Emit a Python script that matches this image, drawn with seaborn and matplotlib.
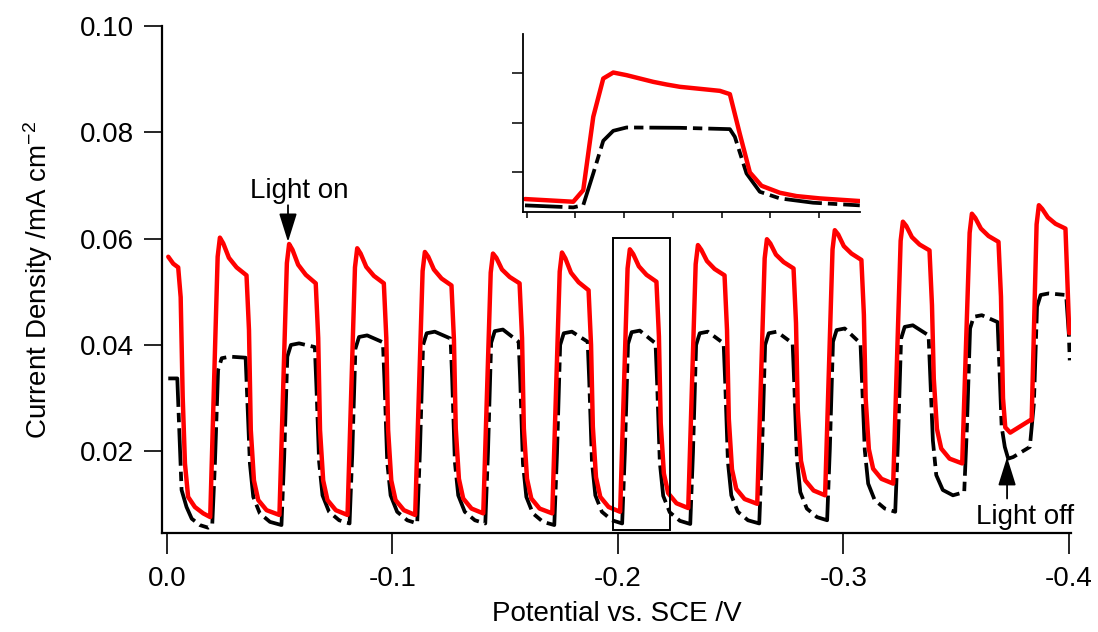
import matplotlib
matplotlib.use("Agg")
import matplotlib.pyplot as plt
from matplotlib.patches import Rectangle
import seaborn as sns
import pandas as pd

# ---------------- data ----------------
red_potential = [
    -0.0006, -0.0028, -0.0050, -0.0061, -0.0070, -0.0080, -0.0094, -0.0124, -0.0161,
    -0.0192, -0.0225, -0.0235, -0.0250, -0.0275, -0.0309, -0.0353, -0.0364, -0.0372, -0.0386, -0.0405, -0.0442,
    -0.0499, -0.0532, -0.0542, -0.0557, -0.0582, -0.0616, -0.0660, -0.0671, -0.0679, -0.0693, -0.0712, -0.0749,
    -0.0801, -0.0834, -0.0844, -0.0859, -0.0884, -0.0918, -0.0962, -0.0973, -0.0981, -0.0995, -0.1014, -0.1051,
    -0.1101, -0.1134, -0.1144, -0.1159, -0.1184, -0.1218, -0.1262, -0.1273, -0.1281, -0.1295, -0.1314, -0.1351,
    -0.1403, -0.1436, -0.1446, -0.1461, -0.1486, -0.1520, -0.1564, -0.1575, -0.1583, -0.1597, -0.1616, -0.1653,
    -0.1709, -0.1742, -0.1752, -0.1767, -0.1792, -0.1826, -0.1870, -0.1881, -0.1889, -0.1903, -0.1922, -0.1959,
    -0.2010, -0.2043, -0.2053, -0.2068, -0.2093, -0.2127, -0.2171, -0.2182, -0.2190, -0.2204, -0.2223, -0.2260,
    -0.2312, -0.2345, -0.2355, -0.2370, -0.2395, -0.2429, -0.2473, -0.2484, -0.2492, -0.2506, -0.2525, -0.2562,
    -0.2618, -0.2651, -0.2661, -0.2676, -0.2701, -0.2735, -0.2779, -0.2790, -0.2798, -0.2812, -0.2831, -0.2868,
    -0.2919, -0.2952, -0.2962, -0.2977, -0.3002, -0.3036, -0.3080, -0.3091, -0.3099, -0.3113, -0.3132, -0.3169,
    -0.3221, -0.3254, -0.3264, -0.3279, -0.3304, -0.3338, -0.3382, -0.3393, -0.3401, -0.3415, -0.3434, -0.3471,
    -0.3527, -0.3560, -0.3570, -0.3585, -0.3610, -0.3644, -0.3688, -0.3699, -0.3708, -0.3718, -0.3740, -0.3827,
    -0.3835, -0.3857, -0.3867, -0.3882, -0.3907, -0.3941, -0.3985, -0.4002,
]
red_current = [
    0.0566, 0.0553, 0.0546, 0.0490, 0.0302, 0.0177, 0.0114, 0.0095, 0.0083,
    0.0076, 0.0566, 0.0602, 0.0591, 0.0564, 0.0546, 0.0531, 0.0428, 0.0240, 0.0145, 0.0108, 0.0089,
    0.0080, 0.0554, 0.0590, 0.0579, 0.0551, 0.0532, 0.0516, 0.0413, 0.0240, 0.0145, 0.0108, 0.0089,
    0.0080, 0.0546, 0.0582, 0.0572, 0.0547, 0.0530, 0.0516, 0.0413, 0.0240, 0.0145, 0.0108, 0.0089,
    0.0080, 0.0539, 0.0575, 0.0566, 0.0542, 0.0525, 0.0512, 0.0409, 0.0243, 0.0148, 0.0111, 0.0092,
    0.0083, 0.0536, 0.0572, 0.0564, 0.0542, 0.0528, 0.0516, 0.0413, 0.0243, 0.0148, 0.0111, 0.0092,
    0.0083, 0.0538, 0.0574, 0.0563, 0.0536, 0.0518, 0.0503, 0.0400, 0.0246, 0.0151, 0.0114, 0.0095,
    0.0086, 0.0544, 0.0580, 0.0571, 0.0548, 0.0532, 0.0519, 0.0416, 0.0253, 0.0158, 0.0121, 0.0102,
    0.0093, 0.0552, 0.0588, 0.0579, 0.0558, 0.0543, 0.0531, 0.0428, 0.0261, 0.0166, 0.0129, 0.0110,
    0.0101, 0.0563, 0.0599, 0.0591, 0.0570, 0.0556, 0.0544, 0.0441, 0.0277, 0.0182, 0.0145, 0.0126,
    0.0117, 0.0580, 0.0616, 0.0608, 0.0586, 0.0572, 0.0560, 0.0457, 0.0299, 0.0204, 0.0167, 0.0148,
    0.0139, 0.0596, 0.0632, 0.0624, 0.0603, 0.0589, 0.0578, 0.0475, 0.0337, 0.0242, 0.0205, 0.0186,
    0.0177, 0.0611, 0.0647, 0.0639, 0.0619, 0.0605, 0.0594, 0.0491, 0.0300, 0.0245, 0.0235, 0.0258,
    0.0258, 0.0627, 0.0663, 0.0656, 0.0640, 0.0628, 0.0619, 0.0422,
]

black_potential = [
    -0.0006, -0.0046, -0.0055, -0.0065, -0.0087, -0.0110, -0.0146, -0.0183,
    -0.0201, -0.0213, -0.0227, -0.0243, -0.0279, -0.0349, -0.0356, -0.0368, -0.0383, -0.0412, -0.0457,
    -0.0508, -0.0520, -0.0534, -0.0550, -0.0586, -0.0656, -0.0663, -0.0675, -0.0690, -0.0719, -0.0764,
    -0.0810, -0.0822, -0.0836, -0.0852, -0.0888, -0.0958, -0.0965, -0.0977, -0.0992, -0.1021, -0.1066,
    -0.1110, -0.1122, -0.1136, -0.1152, -0.1188, -0.1258, -0.1265, -0.1277, -0.1292, -0.1321, -0.1366,
    -0.1412, -0.1424, -0.1438, -0.1454, -0.1490, -0.1560, -0.1567, -0.1579, -0.1594, -0.1623, -0.1668,
    -0.1718, -0.1730, -0.1744, -0.1760, -0.1796, -0.1866, -0.1873, -0.1885, -0.1900, -0.1929, -0.1974,
    -0.2019, -0.2031, -0.2045, -0.2061, -0.2097, -0.2167, -0.2174, -0.2186, -0.2201, -0.2230, -0.2275,
    -0.2321, -0.2333, -0.2347, -0.2363, -0.2399, -0.2469, -0.2476, -0.2488, -0.2503, -0.2532, -0.2577,
    -0.2627, -0.2639, -0.2653, -0.2669, -0.2705, -0.2775, -0.2782, -0.2794, -0.2809, -0.2838, -0.2883,
    -0.2928, -0.2940, -0.2954, -0.2970, -0.3006, -0.3076, -0.3083, -0.3095, -0.3110, -0.3139, -0.3184,
    -0.3230, -0.3242, -0.3256, -0.3272, -0.3308, -0.3378, -0.3385, -0.3397, -0.3412, -0.3441, -0.3486,
    -0.3536, -0.3548, -0.3562, -0.3578, -0.3614, -0.3684, -0.3691, -0.3702, -0.3716, -0.3731, -0.3753,
    -0.3827, -0.3845, -0.3859, -0.3875, -0.3911, -0.3988, -0.4000, -0.4004,
]
black_current = [
    0.0337, 0.0337, 0.0240, 0.0127, 0.0095, 0.0073, 0.0061, 0.0056,
    0.0061, 0.0178, 0.0353, 0.0375, 0.0378, 0.0376, 0.0302, 0.0177, 0.0114, 0.0083, 0.0067,
    0.0061, 0.0188, 0.0378, 0.0400, 0.0403, 0.0396, 0.0322, 0.0180, 0.0117, 0.0086, 0.0070,
    0.0064, 0.0195, 0.0393, 0.0415, 0.0418, 0.0405, 0.0331, 0.0180, 0.0117, 0.0086, 0.0070,
    0.0064, 0.0198, 0.0400, 0.0422, 0.0425, 0.0412, 0.0338, 0.0180, 0.0117, 0.0086, 0.0070,
    0.0064, 0.0199, 0.0404, 0.0426, 0.0429, 0.0406, 0.0332, 0.0177, 0.0114, 0.0083, 0.0067,
    0.0061, 0.0196, 0.0400, 0.0422, 0.0425, 0.0406, 0.0332, 0.0180, 0.0117, 0.0086, 0.0070,
    0.0064, 0.0198, 0.0402, 0.0424, 0.0427, 0.0403, 0.0329, 0.0179, 0.0116, 0.0085, 0.0069,
    0.0063, 0.0197, 0.0400, 0.0422, 0.0425, 0.0403, 0.0329, 0.0180, 0.0117, 0.0086, 0.0070,
    0.0064, 0.0198, 0.0400, 0.0422, 0.0425, 0.0403, 0.0329, 0.0186, 0.0123, 0.0092, 0.0076,
    0.0070, 0.0204, 0.0406, 0.0428, 0.0431, 0.0403, 0.0329, 0.0202, 0.0139, 0.0108, 0.0092,
    0.0086, 0.0216, 0.0412, 0.0434, 0.0437, 0.0418, 0.0344, 0.0220, 0.0155, 0.0127, 0.0117,
    0.0123, 0.0246, 0.0431, 0.0453, 0.0456, 0.0443, 0.0369, 0.0246, 0.0208, 0.0186, 0.0189,
    0.0208, 0.0290, 0.0472, 0.0494, 0.0497, 0.0494, 0.0420, 0.0371,
]

# inset (one light on/off transient, arbitrary units, no tick labels)
inset_red_x = [-0.034, 0.956, 1.161, 1.366, 1.571, 1.776, 2.049, 2.322, 2.596, 2.869,
               3.142, 3.484, 3.962, 4.167, 4.372, 4.577, 4.816, 5.191, 5.533, 6.011, 6.831]
inset_red_y = [0.445, 0.390, 0.627, 2.118, 2.897, 3.019, 2.965, 2.897, 2.829, 2.775,
               2.728, 2.694, 2.646, 2.579, 1.766, 0.986, 0.715, 0.573, 0.505, 0.458, 0.404]
inset_black_x = [-0.034, 0.956, 1.161, 1.366, 1.571, 1.776, 2.049, 3.142, 4.167, 4.269,
                 4.508, 4.781, 5.191, 5.874, 6.831]
inset_black_y = [0.316, 0.275, 0.322, 0.966, 1.630, 1.833, 1.901, 1.894, 1.867, 1.711,
                 0.966, 0.593, 0.458, 0.370, 0.316]

x_ticks = [0.0, -0.1, -0.2, -0.3, -0.4]
x_tick_labels = ["0.0", "-0.1", "-0.2", "-0.3", "-0.4"]
y_ticks = [0.02, 0.04, 0.06, 0.08, 0.10]
y_tick_labels = ["0.02", "0.04", "0.06", "0.08", "0.10"]

# ---------------- style ----------------
sns.set_style("ticks")
plt.rcParams["font.family"] = ["Liberation Sans", "DejaVu Sans"]
plt.rcParams["mathtext.fontset"] = "custom"
plt.rcParams["mathtext.rm"] = "Liberation Sans"
plt.rcParams["mathtext.it"] = "Liberation Sans:italic"
plt.rcParams["axes.unicode_minus"] = False
plt.rcParams["text.color"] = "black"
plt.rcParams["axes.labelcolor"] = "black"
plt.rcParams["xtick.color"] = "black"
plt.rcParams["ytick.color"] = "black"
plt.rcParams["axes.edgecolor"] = "black"

RED = "#ff0000"
BLACK = "#000000"
DASH = (0, (10, 1.6, 2.5, 1.6))

fig = plt.figure(figsize=(10.98, 6.32), dpi=100)
ax = fig.add_axes([0.1475, 0.1566, 0.828, 0.802])

df_red = pd.DataFrame({"potential": red_potential, "current": red_current})
df_black = pd.DataFrame({"potential": black_potential, "current": black_current})

sns.lineplot(data=df_black, x="potential", y="current", ax=ax, sort=False,
             estimator=None, color=BLACK, lw=2.7, linestyle=DASH)
sns.lineplot(data=df_red, x="potential", y="current", ax=ax, sort=False,
             estimator=None, color=RED, lw=3.2)

ax.set_xlim(0.0022, -0.401)
ax.set_ylim(0.0046, 0.10)
ax.set_xticks(x_ticks)
ax.set_xticklabels(x_tick_labels)
ax.set_yticks(y_ticks)
ax.set_yticklabels(y_tick_labels)
ax.tick_params(axis="x", direction="out", length=15, width=1.2, pad=9, labelsize=20,
               colors="black")
ax.tick_params(axis="y", direction="out", length=13, width=1.2, pad=7, labelsize=20,
               colors="black")
for s in ["top", "right"]:
    ax.spines[s].set_visible(False)
for s in ["left", "bottom"]:
    ax.spines[s].set_linewidth(1.6)
    ax.spines[s].set_color("black")

ax.set_xlabel("Potential vs. SCE /V", fontsize=20, labelpad=6, color="black")
ax.set_ylabel("Current Density /mA cm$^{-2}$", fontsize=20, labelpad=18, color="black")

# box marking the zoomed region
ax.add_patch(Rectangle((-0.2231, 0.00513), 0.0254, 0.0550, fill=False,
                       edgecolor="black", lw=1.4, zorder=5))

# annotations
ax.text(-0.0585, 0.0676, "Light on", fontsize=20, ha="center", va="baseline", color="black")
ax.annotate("", xy=(-0.0537, 0.0594), xytext=(-0.0537, 0.0663),
            arrowprops=dict(arrowstyle="-|>,head_length=0.8,head_width=0.25",
                            mutation_scale=22, color="black", lw=1.3,
                            shrinkA=0, shrinkB=0))
ax.text(-0.3805, 0.00639, "Light off", fontsize=20, ha="center", va="baseline",
        clip_on=False, color="black")
ax.annotate("", xy=(-0.3726, 0.0189), xytext=(-0.3726, 0.0111),
            arrowprops=dict(arrowstyle="-|>,head_length=0.8,head_width=0.25",
                            mutation_scale=22, color="black", lw=1.3,
                            shrinkA=0, shrinkB=0))

# inset
axin = fig.add_axes([0.476, 0.665, 0.307, 0.281])
axin.patch.set_alpha(0)
df_ir = pd.DataFrame({"t": inset_red_x, "j": inset_red_y})
df_ib = pd.DataFrame({"t": inset_black_x, "j": inset_black_y})
sns.lineplot(data=df_ib, x="t", y="j", ax=axin, sort=False, estimator=None,
             color=BLACK, lw=2.7, linestyle=DASH)
sns.lineplot(data=df_ir, x="t", y="j", ax=axin, sort=False, estimator=None,
             color=RED, lw=3.2)
axin.set_xlim(-0.082, 6.83)
axin.set_ylim(0.187, 3.80)
axin.set_xticks([0, 1, 2, 3, 4, 5, 6])
axin.set_yticks([1, 2, 3])
axin.set_xticklabels([])
axin.set_yticklabels([])
axin.set_xlabel("")
axin.set_ylabel("")
axin.tick_params(axis="x", direction="out", length=4, width=1.1, colors="black")
axin.tick_params(axis="y", direction="out", length=8, width=1.1, colors="black")
for s in ["top", "right"]:
    axin.spines[s].set_visible(False)
for s in ["left", "bottom"]:
    axin.spines[s].set_linewidth(1.3)
    axin.spines[s].set_color("black")

fig.savefig("out.png", dpi=100)
